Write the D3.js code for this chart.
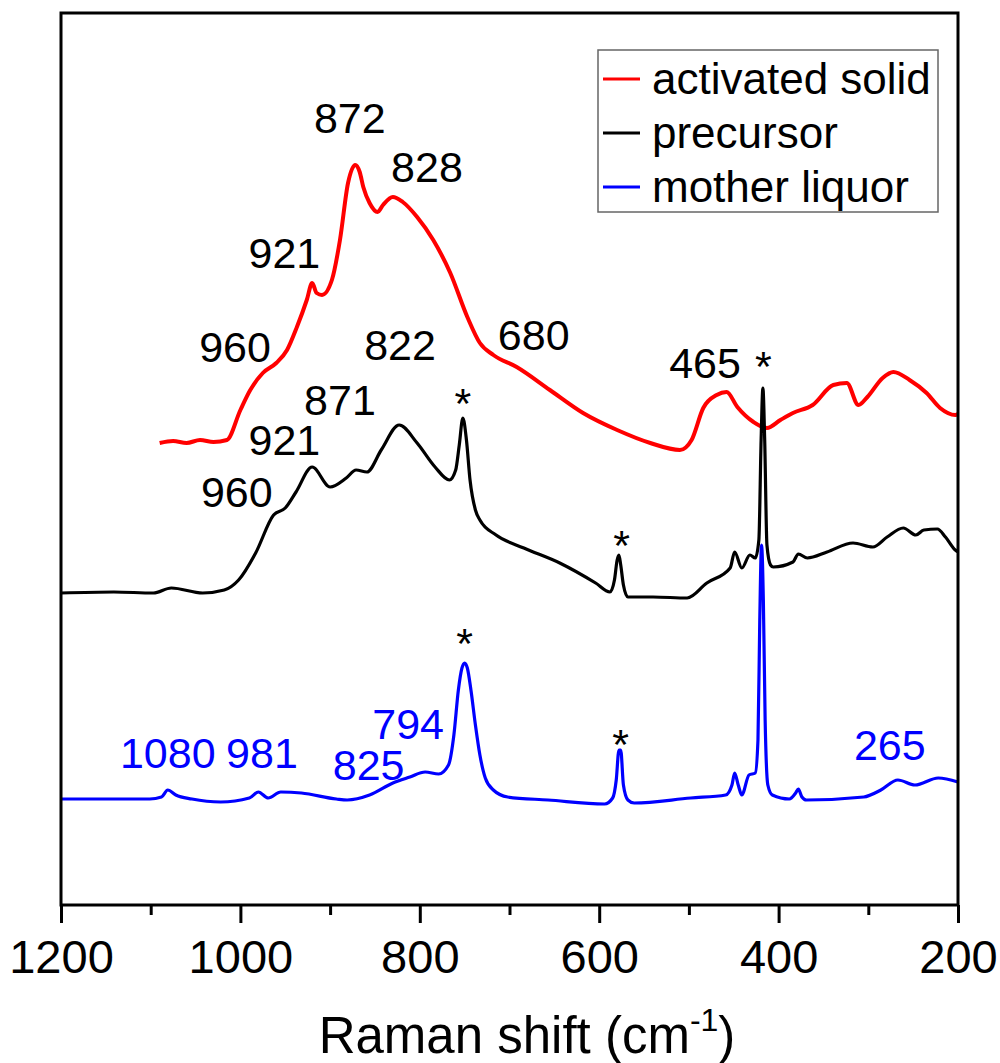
<!DOCTYPE html>
<html>
<head>
<meta charset="utf-8">
<script src="https://cdn.jsdelivr.net/npm/d3@7"></script>
<style>
  body { margin: 0; background: #fff; }
  text { font-family: "Liberation Sans", Arial, sans-serif; }
</style>
</head>
<body>
<svg id="chart" width="1000" height="1063"></svg>
<script>
// Raman spectra, intensity in arbitrary units (stacked with offsets)
const shiftTicks = [1200, 1000, 800, 600, 400, 200];
const minorTicks = [1100, 900, 700, 500, 300];

const activatedSolid = [
  [1090, 462], [1075, 464], [1060, 462], [1045, 465], [1030, 463], [1015, 465],
  [1000, 495], [989, 515], [975, 532], [960, 542], [948, 555], [937, 578],
  [926, 605], [920, 622], [915, 612], [909, 610], [898, 625], [889, 665],
  [880, 722], [872, 740], [867, 733], [863, 718], [856, 702], [847, 693],
  [841, 700], [830, 708], [819, 703], [803, 688], [785, 665], [766, 632],
  [747, 588], [733, 562], [718, 550], [692, 538], [655, 515], [618, 492],
  [580, 475], [543, 462], [510, 455], [497, 465], [484, 497], [469, 510],
  [458, 513], [446, 498], [428, 483], [413, 477], [398, 485], [384, 492],
  [362, 500], [339, 520], [324, 522], [311, 500], [301, 508], [284, 527],
  [272, 533], [254, 525], [235, 512], [220, 497], [203, 490], [200, 491]
];

const precursor = [
  [1200, 312], [1141, 313], [1097, 312], [1077, 317], [1042, 312], [1018, 315],
  [1002, 325], [983, 352], [963, 390], [950, 397], [938, 413], [920, 438],
  [900, 418], [882, 427], [871, 435], [859, 433], [843, 455], [823, 480],
  [803, 462], [783, 438], [767, 425], [760, 435], [756, 460], [752, 487],
  [748, 465], [744, 425], [738, 395], [733, 385], [715, 370], [684, 357],
  [644, 342], [604, 322], [588, 313], [583, 325], [580, 345], [578, 350],
  [576, 340], [573, 320], [568, 308], [540, 308], [502, 307], [480, 322],
  [454, 337], [449, 353], [441, 337], [432, 350], [426, 347], [422, 365],
  [419.5, 465], [417.5, 517], [415.5, 465], [413, 360], [409, 340], [406, 338],
  [384, 343], [378, 351], [368, 347], [346, 353], [317, 362], [295, 358],
  [279, 368], [261, 377], [247, 370], [238, 375], [223, 376], [214, 368],
  [203, 355], [200, 353]
];

const motherLiquor = [
  [1200, 106], [1101, 106], [1088, 108], [1081, 115], [1072, 110], [1054, 106],
  [1022, 103], [990, 107], [980, 113], [969, 107], [955, 113], [932, 112],
  [893, 106], [881, 105], [856, 110], [830, 122], [811, 128], [794, 133],
  [779, 131], [768, 140], [762, 170], [757, 215], [753, 237], [750, 242],
  [747, 237], [743, 215], [738, 180], [733, 150], [727, 127], [718, 115],
  [702, 108], [657, 105], [594, 101], [585, 107], [581, 125], [578, 155],
  [576, 155], [573, 120], [568, 105], [561, 102], [498, 107], [459, 110],
  [452, 120], [449, 132], [445, 120], [441, 110], [433, 130], [426, 132],
  [423, 165], [421, 285], [419, 360], [417, 305], [415, 185], [412, 120],
  [407, 110], [388, 106], [381, 112], [378, 116], [374, 108], [369, 105],
  [305, 108], [286, 115], [267, 125], [248, 120], [222, 127], [200, 123]
];

const seriesNames = ["activated solid", "precursor", "mother liquor"];
const seriesColors = ["#ff0000", "#000000", "#0000ff"];
const seriesWidths = [4, 3.2, 3.2];
const seriesData = [activatedSolid, precursor, motherLiquor];

// peak labels: [text, shift, intensity, colour index]
const peakLabels = [
  ["872", 878, 772, 1], ["828", 792, 723, 1], ["921", 951, 637, 1],
  ["960", 1006, 543, 1], ["822", 822, 545, 1], ["680", 673, 555, 1],
  ["871", 889, 490, 1], ["921", 951, 450, 1], ["960", 1004, 398, 1],
  ["465", 482, 527, 1],
  ["1080", 1081, 137, 2], ["981", 976, 137, 2], ["825", 857, 125, 2],
  ["794", 813, 166, 2], ["265", 276, 145, 2]
];
// asterisks mark bands of the reference solvent
const starMarks = [[752, 487], [417, 524], [575, 345], [750, 247], [576, 146]];

const svg = d3.select("#chart");
const margin = { top: 13, right: 42, bottom: 158, left: 61 };
const width = 1000 - margin.left - margin.right,
  height = 1063 - margin.top - margin.bottom;

const g = svg.append("g")
  .attr("transform", `translate(${margin.left},${margin.top})`);

const x = d3.scaleLinear().domain([1200, 200]).range([0, width]);
const y = d3.scaleLinear().domain([0, height]).range([height, 0]);

const line = d3.line()
  .x(d => x(d[0]))
  .y(d => y(d[1]))
  .curve(d3.curveMonotoneX);

// spectra
seriesData.forEach((data, i) => {
  g.append("path")
    .datum(data)
    .attr("fill", "none")
    .attr("stroke", seriesColors[i])
    .attr("stroke-width", seriesWidths[i])
    .attr("stroke-linejoin", "round")
    .attr("d", line);
});

// labels
g.selectAll(".peak")
  .data(peakLabels)
  .enter()
  .append("text")
  .attr("class", "peak")
  .attr("x", d => x(d[1]))
  .attr("y", d => y(d[2]))
  .attr("text-anchor", "middle")
  .attr("font-size", 43)
  .attr("fill", d => seriesColors[d[3]])
  .text(d => d[0]);

g.selectAll(".star")
  .data(starMarks)
  .enter()
  .append("text")
  .attr("class", "star")
  .attr("x", d => x(d[0]))
  .attr("y", d => y(d[1]))
  .attr("text-anchor", "middle")
  .attr("font-size", 43)
  .attr("fill", "#000")
  .text("*");

// frame
g.append("rect")
  .attr("width", width)
  .attr("height", height)
  .attr("fill", "none")
  .attr("stroke", "#000")
  .attr("stroke-width", 3);

// x axis
const xAxis = g.append("g")
  .attr("transform", `translate(0,${height})`)
  .call(d3.axisBottom(x).tickValues(shiftTicks).tickFormat(d3.format("d"))
    .tickSize(18).tickSizeOuter(0));
xAxis.select(".domain").remove();
xAxis.selectAll(".tick line").attr("stroke-width", 3);
xAxis.selectAll("text")
  .attr("y", 68)
  .attr("dy", 0)
  .attr("font-size", 47)
  .attr("fill", "#000");

const xMinor = g.append("g")
  .attr("transform", `translate(0,${height})`)
  .call(d3.axisBottom(x).tickValues(minorTicks).tickSize(10).tickFormat(""));
xMinor.select(".domain").remove();
xMinor.selectAll(".tick line").attr("stroke-width", 3);

// axis title
const title = svg.append("text")
  .attr("x", 527)
  .attr("y", 1053)
  .attr("text-anchor", "middle")
  .attr("font-size", 51)
  .attr("fill", "#000");
title.append("tspan").text("Raman shift (cm");
title.append("tspan").attr("font-size", 32).attr("dy", -22).text("-1");
title.append("tspan").attr("dy", 22).text(")");

// legend
const legend = g.append("g").attr("transform", `translate(${598 - margin.left},${50 - margin.top})`);
legend.append("rect")
  .attr("width", 340)
  .attr("height", 162)
  .attr("fill", "#fff")
  .attr("stroke", "#666")
  .attr("stroke-width", 1.5);

seriesNames.forEach((name, i) => {
  const row = legend.append("g").attr("transform", `translate(0,${29 + i * 54})`);
  row.append("line")
    .attr("x1", 5)
    .attr("x2", 42)
    .attr("stroke", seriesColors[i])
    .attr("stroke-width", 3);
  row.append("text")
    .attr("x", 54)
    .attr("y", 15)
    .attr("font-size", 44)
    .attr("fill", "#000")
    .text(name);
});
</script>
</body>
</html>
